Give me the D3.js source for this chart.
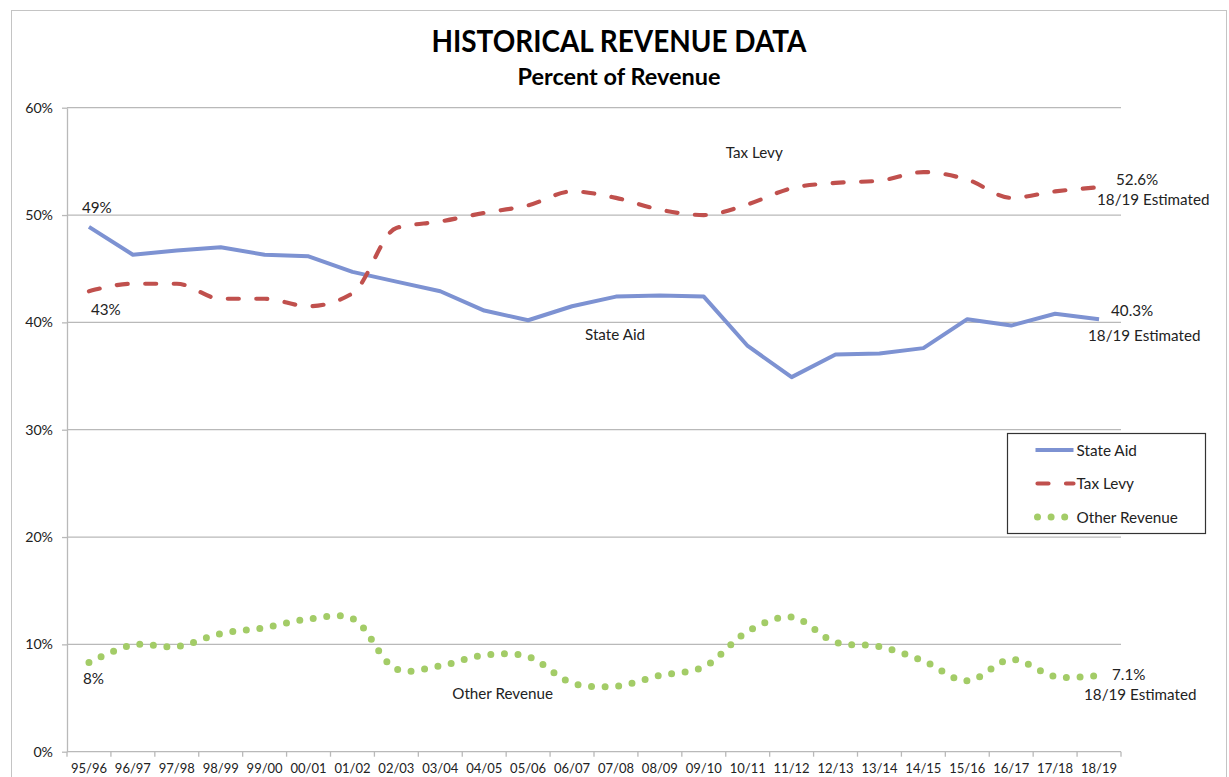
<!DOCTYPE html>
<html>
<head>
<meta charset="utf-8">
<script src="https://cdn.jsdelivr.net/npm/d3@7"></script>
<style>
  body { margin: 0; background: #fff; }
  svg { display: block; font-family: Lato, "Liberation Sans", sans-serif; }
</style>
</head>
<body>
<svg id="chart" width="1229" height="777"></svg>
<script>
// school years on the x axis
const categories = ["95/96","96/97","97/98","98/99","99/00","00/01","01/02","02/03","03/04","04/05","05/06","06/07",
  "07/08","08/09","09/10","10/11","11/12","12/13","13/14","14/15","15/16","16/17","17/18","18/19"];

// percent of revenue
const stateAid = [48.9, 46.3, 46.7, 47.0, 46.3, 46.15, 44.7, 43.8, 42.9, 41.1, 40.2, 41.5,
  42.4, 42.5, 42.4, 37.8, 34.9, 37.0, 37.1, 37.6, 40.3, 39.7, 40.8, 40.3];
const taxLevy = [42.9, 43.6, 43.6, 42.2, 42.2, 41.5, 42.7, 48.8, 49.4, 50.2, 50.9, 52.2,
  51.6, 50.5, 50.0, 51.0, 52.5, 53.0, 53.2, 54.0, 53.3, 51.6, 52.2, 52.6];
const otherRevenue = [8.3, 9.95, 9.8, 11.0, 11.55, 12.35, 12.4, 7.7, 8.0, 9.0, 8.85, 6.4,
  6.1, 7.1, 7.9, 11.2, 12.55, 10.2, 9.8, 8.45, 6.6, 8.6, 7.0, 7.1];

const yTicks = [0, 10, 20, 30, 40, 50, 60];
const seriesNames = ["State Aid", "Tax Levy", "Other Revenue"];

const svg = d3.select("#chart");
const plot = { left: 67, right: 1121, top: 107.7, bottom: 751.7 };
const textColor = "#222";
const gridColor = "#b9b9b9";

const x = d3.scaleBand().domain(categories).range([plot.left, plot.right]).padding(0);
const cx = c => x(c) + x.bandwidth() / 2;
const y = d3.scaleLinear().domain([0, 60]).range([plot.bottom, plot.top]);

// outer chart frame
svg.append("rect")
  .attr("x", 11.5).attr("y", 10.5)
  .attr("width", 1215).attr("height", 800)
  .attr("fill", "none").attr("stroke", "#c4c4c4");

// titles
svg.append("text")
  .attr("x", 619).attr("y", 52)
  .attr("text-anchor", "middle")
  .attr("font-weight", "bold").attr("font-size", 30)
  .attr("textLength", 375).attr("lengthAdjust", "spacingAndGlyphs")
  .attr("fill", "#000")
  .text("HISTORICAL REVENUE DATA");
svg.append("text")
  .attr("x", 619).attr("y", 85)
  .attr("text-anchor", "middle")
  .attr("font-weight", "bold").attr("font-size", 22)
  .attr("textLength", 203).attr("lengthAdjust", "spacingAndGlyphs")
  .attr("fill", "#000")
  .text("Percent of Revenue");

// gridlines
svg.append("g")
  .selectAll("line")
  .data(yTicks)
  .join("line")
  .attr("x1", plot.left).attr("x2", plot.right)
  .attr("y1", d => y(d)).attr("y2", d => y(d))
  .attr("stroke", gridColor).attr("stroke-width", 1.3);

// y axis
const yAxis = svg.append("g")
  .attr("transform", `translate(${plot.left},0)`)
  .call(d3.axisLeft(y).tickValues(yTicks).tickFormat(d => d + "%").tickSize(5).tickSizeOuter(0).tickPadding(9));
yAxis.select(".domain").attr("stroke", gridColor).attr("stroke-width", 1.3);
yAxis.selectAll(".tick line").attr("stroke", gridColor).attr("stroke-width", 1.3);
yAxis.attr("font-family", null);
yAxis.selectAll("text").attr("font-size", 14.2).attr("fill", textColor);

// x axis: labels centred in each band, tick marks on band edges
const xAxis = svg.append("g")
  .attr("transform", `translate(0,${plot.bottom})`)
  .call(d3.axisBottom(x).tickSize(0).tickPadding(12.5));
xAxis.select(".domain").remove();
xAxis.attr("font-family", null);
xAxis.selectAll("text").attr("font-size", 13).attr("fill", textColor);
svg.append("g")
  .selectAll("line")
  .data(categories.map(c => x(c)).concat([plot.right]))
  .join("line")
  .attr("x1", d => d).attr("x2", d => d)
  .attr("y1", plot.bottom).attr("y2", plot.bottom + 5)
  .attr("stroke", gridColor).attr("stroke-width", 1.3);

// series
const styles = {
  "State Aid":     { color: "#7d92d2", width: 4,   dash: null,      cap: "butt",  curve: d3.curveLinear },
  "Tax Levy":      { color: "#c0504d", width: 4.2, dash: "11 17.5", cap: "round", curve: d3.curveMonotoneX },
  "Other Revenue": { color: "#a3cc67", width: 7,   dash: "0 13.6",  cap: "round", curve: d3.curveCatmullRom.alpha(0.5) }
};
const seriesData = { "State Aid": stateAid, "Tax Levy": taxLevy, "Other Revenue": otherRevenue };

seriesNames.forEach(name => {
  const s = styles[name];
  const line = d3.line()
    .x((d, i) => cx(categories[i]))
    .y(d => y(d))
    .curve(s.curve);
  svg.append("path")
    .datum(seriesData[name])
    .attr("d", line)
    .attr("fill", "none")
    .attr("stroke", s.color)
    .attr("stroke-width", s.width)
    .attr("stroke-linecap", s.cap)
    .attr("stroke-linejoin", "round")
    .attr("stroke-dasharray", s.dash);
});

// data labels
const last = categories.length - 1;
const f0 = v => d3.format(".0f")(v) + "%";
const f1 = v => d3.format(".1f")(v) + "%";
const labels = [
  { text: f0(stateAid[0]), x: cx(categories[0]) - 7, y: y(stateAid[0]) - 14 },
  { text: f0(taxLevy[0]), x: cx(categories[0]) + 2, y: y(taxLevy[0]) + 24 },
  { text: f0(otherRevenue[0]), x: cx(categories[0]) - 6, y: y(otherRevenue[0]) + 21 },
  { text: f1(taxLevy[last]), x: cx(categories[last]) + 17, y: y(taxLevy[last]) - 2 },
  { text: categories[last] + " Estimated", x: cx(categories[last]) - 2, y: y(taxLevy[last]) + 18 },
  { text: f1(stateAid[last]), x: cx(categories[last]) + 12, y: y(stateAid[last]) - 3 },
  { text: categories[last] + " Estimated", x: cx(categories[last]) - 11, y: y(stateAid[last]) + 22 },
  { text: f1(otherRevenue[last]), x: cx(categories[last]) + 13, y: y(otherRevenue[last]) + 4.5 },
  { text: categories[last] + " Estimated", x: cx(categories[last]) - 15, y: y(otherRevenue[last]) + 25 },
  { text: "Tax Levy", x: x("10/11"), y: y(55.3) },
  { text: "State Aid", x: cx("06/07") + 13, y: y(38.35) },
  { text: "Other Revenue", x: cx("03/04") + 12, y: y(4.9) }
];
svg.append("g")
  .selectAll("text")
  .data(labels)
  .join("text")
  .attr("x", d => d.x).attr("y", d => d.y)
  .attr("font-size", 15.2)
  .attr("fill", textColor)
  .text(d => d.text);

// legend
const legend = svg.append("g").attr("transform", "translate(1007.5,433.5)");
legend.append("rect")
  .attr("width", 198).attr("height", 100)
  .attr("fill", "#fff").attr("stroke", "#333").attr("stroke-width", 1.2);
const rows = legend.selectAll("g.row")
  .data(seriesNames)
  .join("g")
  .attr("class", "row")
  .attr("transform", (d, i) => `translate(0,${16.5 + i * 33.5})`);
rows.append("line")
  .attr("x1", d => d === "State Aid" ? 28 : 30)
  .attr("x2", 66)
  .attr("stroke", d => styles[d].color)
  .attr("stroke-width", d => styles[d].width)
  .attr("stroke-linecap", d => styles[d].cap)
  .attr("stroke-dasharray", d => styles[d].dash);
rows.append("text")
  .attr("x", 69).attr("y", 5.5)
  .attr("font-size", 15.3)
  .attr("fill", textColor)
  .text(d => d);
</script>
</body>
</html>
